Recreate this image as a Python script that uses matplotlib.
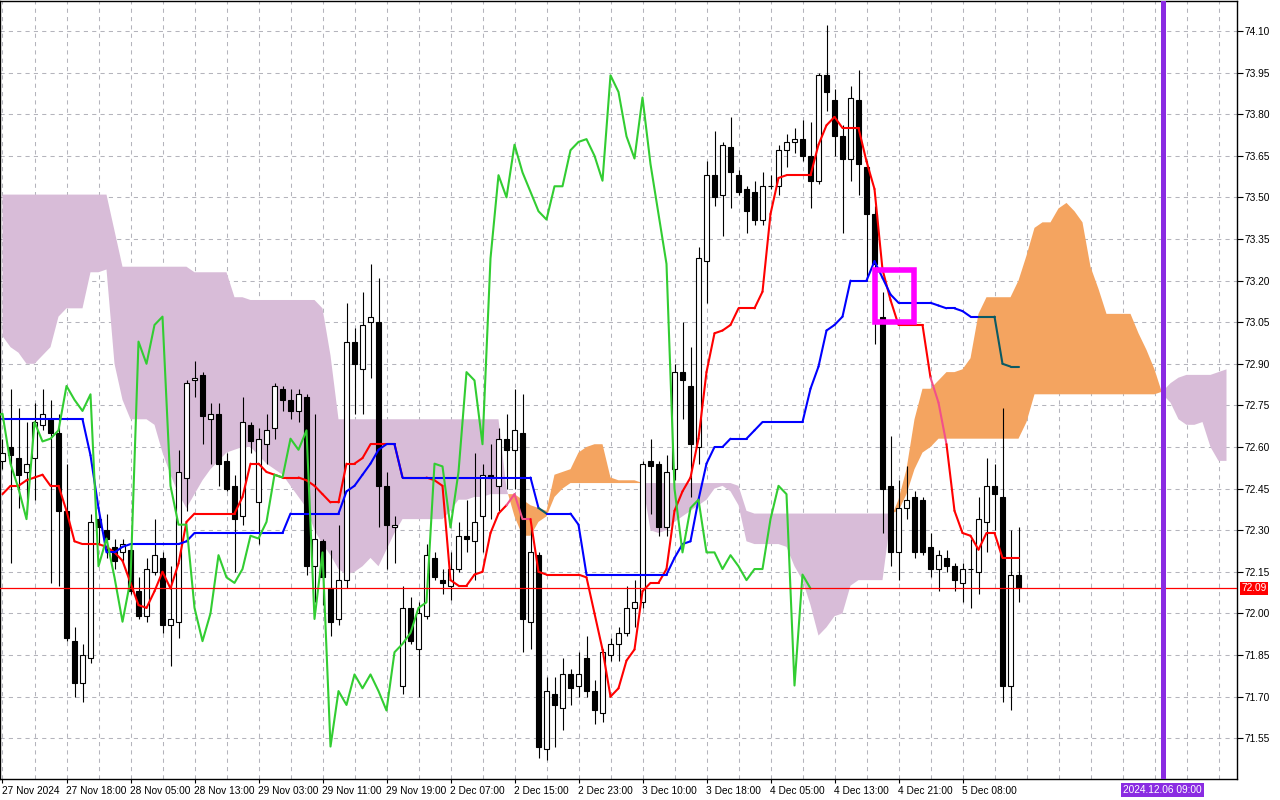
import numpy as np
import matplotlib
matplotlib.use("Agg")
import matplotlib.pyplot as plt
from matplotlib.collections import LineCollection
from matplotlib.patches import Rectangle
from matplotlib.transforms import blended_transform_factory

plt.rcParams["font.family"] = ["Liberation Sans", "DejaVu Sans"]

# ---------------------------------------------------------------- candles (H1)
OPEN = [72.55, 72.60, 72.56, 72.51, 72.56, 72.68, 72.70, 72.65, 72.37, 71.90,
        71.75, 71.84, 72.34, 72.30, 72.24, 72.22, 72.23, 72.08, 71.99, 72.15,
        72.20, 71.96, 71.97, 72.49, 72.84, 72.86, 72.70, 72.72, 72.55, 72.46,
        72.35, 72.68, 72.40, 72.61, 72.67, 72.81, 72.77, 72.73, 72.78, 72.17,
        72.26, 72.09, 71.98, 72.12, 72.98, 72.88, 73.05, 73.05, 72.46, 72.31,
        71.74, 72.02, 71.87, 71.99, 72.20, 72.12, 72.10, 72.16, 72.28, 72.26,
        72.35, 72.50, 72.46, 72.63, 72.59, 72.65, 71.97, 72.21, 71.51, 71.71,
        71.66, 71.78, 71.74, 71.84, 71.72, 71.64, 71.85, 71.89, 71.93, 72.02,
        72.04, 72.55, 72.54, 72.31, 72.52, 72.87, 72.82, 72.60, 73.27, 73.58,
        73.51, 73.68, 73.58, 73.53, 73.52, 73.42, 73.54, 73.54, 73.67, 73.70,
        73.71, 73.65, 73.56, 73.94, 73.85, 73.72, 73.64, 73.85, 73.61, 73.44,
        73.07, 72.46, 72.22, 72.38, 72.42, 72.41, 72.24, 72.16, 72.20, 72.17,
        72.11, 72.16, 72.15, 72.33, 72.46, 72.42, 71.74, 72.14]
HIGH = [72.63, 72.81, 72.74, 72.69, 72.76, 72.81, 72.77, 72.72, 72.54, 71.95,
        71.89, 72.36, 72.36, 72.36, 72.27, 72.27, 72.25, 72.13, 72.20, 72.34,
        72.22, 72.17, 72.59, 72.84, 72.91, 72.87, 72.76, 72.76, 72.58, 72.50,
        72.78, 72.69, 72.67, 72.72, 72.83, 72.82, 72.81, 72.81, 72.79, 72.72,
        72.27, 72.23, 72.32, 73.12, 73.03, 73.16, 73.26, 73.21, 72.51, 72.35,
        72.10, 72.06, 72.04, 72.25, 72.22, 72.16, 72.22, 72.33, 72.41, 72.58,
        72.54, 72.61, 72.67, 72.72, 72.81, 72.79, 72.31, 72.22, 71.77, 71.77,
        71.84, 71.80, 71.86, 71.92, 71.76, 71.87, 71.91, 71.95, 72.10, 72.12,
        72.55, 72.63, 72.55, 72.57, 72.90, 73.05, 72.96, 73.32, 73.63, 73.74,
        73.70, 73.79, 73.60, 73.54, 73.56, 73.59, 73.58, 73.69, 73.73, 73.75,
        73.78, 73.77, 73.95, 74.12, 73.89, 73.76, 73.90, 73.96, 73.63, 73.47,
        73.16, 72.64, 72.48, 72.53, 72.44, 72.42, 72.29, 72.23, 72.23, 72.18,
        72.18, 72.27, 72.42, 72.56, 72.54, 72.74, 72.30, 72.31]
LOW = [72.52, 72.18, 72.38, 72.36, 72.41, 72.66, 72.11, 72.10, 71.90, 71.70,
       71.68, 71.82, 72.25, 72.20, 72.16, 72.19, 72.07, 71.98, 71.97, 72.14,
       71.93, 71.81, 71.91, 72.37, 72.78, 72.61, 72.54, 72.46, 72.44, 72.15,
       72.32, 72.58, 72.25, 72.54, 72.63, 72.73, 72.70, 72.69, 72.14, 72.04,
       72.03, 71.92, 71.96, 72.09, 72.72, 72.72, 72.85, 72.31, 72.16, 72.18,
       71.71, 71.89, 71.70, 71.98, 72.12, 72.07, 72.05, 72.15, 72.22, 72.12,
       72.22, 72.34, 72.37, 72.45, 72.45, 71.86, 71.87, 71.48, 71.47, 71.52,
       71.58, 71.67, 71.70, 71.70, 71.60, 71.61, 71.83, 71.83, 71.92, 71.95,
       72.02, 72.36, 72.28, 72.28, 72.48, 72.70, 72.42, 72.54, 73.12, 73.47,
       73.36, 73.46, 73.51, 73.37, 73.40, 73.40, 73.53, 73.51, 73.61, 73.66,
       73.63, 73.46, 73.55, 73.81, 73.65, 73.37, 73.56, 73.51, 73.20, 72.97,
       72.29, 72.17, 72.12, 72.34, 72.20, 72.21, 72.13, 72.08, 72.15, 72.08,
       72.04, 72.02, 72.07, 72.22, 72.30, 71.68, 71.65, 72.04]
CLOSE = [72.58, 72.57, 72.50, 72.54, 72.69, 72.72, 72.65, 72.37, 71.91, 71.75,
         71.85, 72.33, 72.31, 72.27, 72.19, 72.25, 72.08, 71.99, 72.16, 72.21,
         71.96, 71.98, 72.51, 72.83, 72.85, 72.71, 72.72, 72.54, 72.45, 72.34,
         72.69, 72.62, 72.63, 72.66, 72.82, 72.77, 72.73, 72.79, 72.17, 72.27,
         72.13, 71.97, 72.12, 72.98, 72.90, 73.04, 73.07, 72.46, 72.32, 72.32,
         72.02, 71.90, 72.00, 72.21, 72.13, 72.11, 72.16, 72.28, 72.27, 72.33,
         72.50, 72.49, 72.63, 72.59, 72.66, 71.98, 72.22, 71.52, 71.72, 71.67,
         71.78, 71.73, 71.78, 71.72, 71.65, 71.86, 71.89, 71.93, 72.02, 72.04,
         72.54, 72.53, 72.31, 72.51, 72.87, 72.84, 72.61, 73.28, 73.58, 73.50,
         73.69, 73.59, 73.52, 73.45, 73.42, 73.54, 73.54, 73.67, 73.70, 73.71,
         73.65, 73.56, 73.94, 73.88, 73.72, 73.64, 73.86, 73.62, 73.44, 73.26,
         72.45, 72.22, 72.38, 72.41, 72.22, 72.22, 72.16, 72.21, 72.17, 72.12,
         72.16, 72.16, 72.34, 72.46, 72.43, 71.74, 72.14, 72.09]

# ---------------------------------------------------------------- Ichimoku lines
TENKAN = [72.43, 72.46, 72.46, 72.48, 72.49, 72.50, 72.46, 72.46, 72.37, 72.26,
          72.25, 72.25, 72.25, 72.24, 72.22, 72.19, 72.11, 72.03, 72.02, 72.08,
          72.15, 72.09, 72.18, 72.33, 72.36, 72.36, 72.36, 72.36, 72.36, 72.36,
          72.42, 72.54, 72.54, 72.51, 72.50, 72.49, 72.49, 72.49, 72.48, 72.46,
          72.43, 72.40, 72.40, 72.54, 72.54, 72.56, 72.61, 72.61, 72.61, 72.61,
          72.49, 72.49, 72.49, 72.49, 72.48, 72.46, 72.12, 72.10, 72.10, 72.14,
          72.15, 72.29, 72.36, 72.39, 72.43, 72.34, 72.34, 72.15, 72.14, 72.14,
          72.14, 72.14, 72.14, 72.13, 72.00, 71.87, 71.70, 71.73, 71.83, 71.87,
          72.08, 72.11, 72.11, 72.16, 72.37, 72.44, 72.49, 72.63, 72.87, 73.01,
          73.02, 73.04, 73.10, 73.10, 73.10, 73.16, 73.44, 73.57, 73.58, 73.58,
          73.58, 73.58, 73.69, 73.76, 73.79, 73.75, 73.75, 73.75, 73.63, 73.53,
          73.24, 73.13, 73.04, 73.04, 73.04, 73.04, 72.85, 72.76, 72.61, 72.37,
          72.29, 72.28, 72.23, 72.29, 72.29, 72.20, 72.20, 72.20]
KIJUN = ([72.70] * 11 + [72.57, 72.38, 72.22, 72.22, 72.24] + [72.25] * 7
         + [72.26] + [72.29] * 12 + [72.36] * 7
         + [72.44, 72.46, 72.50, 72.54, 72.59, 72.61, 72.61] + [72.49] * 17
         + [72.38] + [72.36] * 4 + [72.32] + [72.14] * 11
         + [72.20, 72.25, 72.26, 72.41, 72.54, 72.60, 72.60] + [72.63] * 3
         + [72.66, 72.69] + [72.69] * 5
         + [72.81, 72.89, 73.02, 73.04, 73.07, 73.20, 73.20, 73.20, 73.27,
            73.21, 73.15] + [73.12] * 5 + [73.11, 73.10, 73.10, 73.09]
         + [73.07] * 4 + [72.90, 72.89, 72.89])
SPAN_A = [73.00, 72.96, 72.94, 72.90, 72.90, 72.93, 72.96, 73.07, 73.10, 73.10,
          73.10, 73.23, 73.23, 73.24, 72.90, 72.77, 72.70, 72.70, 72.70, 72.68,
          72.58, 72.50, 72.43, 72.38, 72.43, 72.48, 72.52, 72.55, 72.58, 72.59,
          72.60, 72.60, 72.57, 72.54, 72.52, 72.50, 72.46, 72.42, 72.38, 72.30,
          72.25, 72.21, 72.16, 72.14, 72.15, 72.17, 72.20, 72.17, 72.23, 72.29,
          72.34, 72.34, 72.34, 72.34, 72.34, 72.34, 72.37, 72.41, 72.41, 72.42,
          72.42, 72.43, 72.43, 72.43, 72.43, 72.41, 72.39, 72.38, 72.37, 72.50,
          72.51, 72.52, 72.58, 72.60, 72.61, 72.61, 72.49, 72.48, 72.48, 72.48,
          72.47, 72.30, 72.29, 72.30, 72.33, 72.35, 72.37, 72.39, 72.41, 72.45,
          72.46, 72.44, 72.39, 72.26, 72.25, 72.25, 72.25, 72.25, 72.24, 72.17,
          72.12, 72.03, 71.92, 71.95, 71.99, 72.00, 72.10, 72.12, 72.12, 72.12,
          72.12, 72.34, 72.41, 72.52, 72.70, 72.81, 72.81, 72.84, 72.87, 72.87,
          72.88, 72.92, 73.08, 73.14, 73.14, 73.14, 73.14, 73.20, 73.29, 73.39,
          73.41, 73.41, 73.46, 73.48, 73.45, 73.41, 73.25, 73.17, 73.08, 73.08,
          73.08, 73.08, 73.01, 72.95, 72.88, 72.79, 72.76, 72.70, 72.68, 72.68,
          72.69, 72.60, 72.55, 72.55]
SPAN_B = ([73.51] * 14 + [73.38] + [73.25] * 9 + [73.23] * 5 + [73.14] * 2
          + [73.13] * 9 + [73.10, 72.93] + [72.70] * 21 + [72.45]
          + [72.35, 72.28, 72.28, 72.33, 72.35, 72.42, 72.45] + [72.47] * 21
          + [72.46, 72.37] + [72.36] * 18 + [72.37, 72.43]
          + [72.52, 72.58, 72.60] + [72.63] * 11 + [72.69] + [72.79] * 16
          + [72.80, 72.83, 72.85, 72.86, 72.86, 72.86, 72.86, 72.87, 72.88])
SHIFT = 26

TIME_LABELS = ["27 Nov 2024", "27 Nov 18:00", "28 Nov 05:00", "28 Nov 13:00",
               "29 Nov 03:00", "29 Nov 11:00", "29 Nov 19:00", "2 Dec 07:00",
               "2 Dec 15:00", "2 Dec 23:00", "3 Dec 10:00", "3 Dec 18:00",
               "4 Dec 05:00", "4 Dec 13:00", "4 Dec 21:00", "5 Dec 08:00"]
PRICE_TICKS = [71.55, 71.70, 71.85, 72.00, 72.15, 72.30, 72.45, 72.60, 72.75,
               72.90, 73.05, 73.20, 73.35, 73.50, 73.65, 73.80, 73.95, 74.10]
MARK_BAR, MARK_TEXT = 145, "2024.12.06 09:00"

RED = "#ff0000"
BLUE = "#0000ff"
GREEN = "#32cd32"
BULL_CLOUD = "#f4a460"
BEAR_CLOUD = "#d8bcd8"
GRID = "#b4b4bc"
VIOLET = "#8a2be2"
FS = 7.3

fig = plt.figure(figsize=(12.8, 8), dpi=100)
ax = fig.add_axes([0.0, 21 / 800, 1237 / 1280, 778 / 800])
ax.set_xlim(-0.3125, 154.3125)
ax.set_ylim(71.403, 74.208)

# ---------------------------------------------------------------- grid
for g in range(0, 154, 4):
    ax.axvline(g, color=GRID, lw=0.75, ls=(0, (4, 4)), zorder=0.5)
for p in PRICE_TICKS:
    ax.axhline(p, color=GRID, lw=0.75, ls=(0, (4, 4)), zorder=0.5)

# ---------------------------------------------------------------- cloud
xc = np.arange(len(SPAN_A))
sa, sb = np.array(SPAN_A), np.array(SPAN_B)
ax.fill_between(xc, sa, sb, where=sa >= sb, interpolate=True,
                color=BULL_CLOUD, lw=0, zorder=1)
ax.fill_between(xc, sa, sb, where=sa <= sb, interpolate=True,
                color=BEAR_CLOUD, lw=0, zorder=1)

# ---------------------------------------------------------------- candles
x = np.arange(len(CLOSE))
o, h, l, c = map(np.array, (OPEN, HIGH, LOW, CLOSE))
up = c >= o
ax.vlines(x, l, h, color="black", lw=0.8, zorder=3)
ax.bar(x[up], (c - o)[up], bottom=o[up], width=0.6, color="white",
       edgecolor="black", linewidth=0.8, zorder=3.5)
ax.bar(x[~up], (o - c)[~up], bottom=c[~up], width=0.6, color="black",
       edgecolor="black", linewidth=0.8, zorder=3.5)


def ichi_line(vals, color, in_cloud_color):
    """line segments that run inside the bullish cloud take a tinted colour"""
    v = np.array(vals)
    xs = np.arange(len(v))
    segs, cols = [], []
    for i in range(len(v) - 1):
        segs.append([(xs[i], v[i]), (xs[i + 1], v[i + 1])])
        m = (v[i] + v[i + 1]) / 2
        a = (sa[i] + sa[i + 1]) / 2
        b = (sb[i] + sb[i + 1]) / 2
        cols.append(in_cloud_color if (a > b and b <= m <= a) else color)
    ax.add_collection(LineCollection(segs, colors=cols, linewidths=1.5,
                                     capstyle="round", zorder=4))


ichi_line(TENKAN, RED, "#f2508a")
ichi_line(KIJUN, BLUE, "#0b5a64")
ax.plot(x - SHIFT, c, color=GREEN, lw=1.5, zorder=4)

# last price
ax.axhline(c[-1], color=RED, lw=0.9, zorder=4.5)

# TK-cross marker
ax.add_patch(Rectangle((109.1, 73.052), 4.8, 0.186, fill=False,
                       edgecolor="#ff00ff", lw=4.0, zorder=6))

# vertical time marker
ax.axvline(MARK_BAR, color=VIOLET, lw=3.6, zorder=5)

# ---------------------------------------------------------------- axes
for s in ax.spines.values():
    s.set_color("black")
    s.set_linewidth(1.0)
ax.yaxis.tick_right()
ax.set_yticks(PRICE_TICKS)
ax.set_yticklabels([f"{p:.2f}" for p in PRICE_TICKS])
ax.tick_params(axis="y", length=4, width=0.8, pad=1.5, labelsize=FS)
ax.set_xticks(range(0, 8 * len(TIME_LABELS), 8))
ax.set_xticklabels(TIME_LABELS, ha="left")
ax.tick_params(axis="x", length=3, width=0.8, pad=2, labelsize=FS)

ytr = blended_transform_factory(ax.transAxes, ax.transData)
ax.annotate(f"{c[-1]:.2f}", xy=(1.0, c[-1]), xycoords=ytr,
            xytext=(3, 0), textcoords="offset points", ha="left", va="center",
            fontsize=FS, color="white", annotation_clip=False,
            bbox=dict(boxstyle="square,pad=0.15", fc=RED, ec="none"))

xtr = blended_transform_factory(ax.transData, ax.transAxes)
ax.text(MARK_BAR, -0.0145, MARK_TEXT, transform=xtr, ha="center", va="center",
        fontsize=FS, color="white", clip_on=False,
        bbox=dict(boxstyle="square,pad=0.2", fc=VIOLET, ec="none"))

fig.savefig("out.png", dpi=100, facecolor="white")
